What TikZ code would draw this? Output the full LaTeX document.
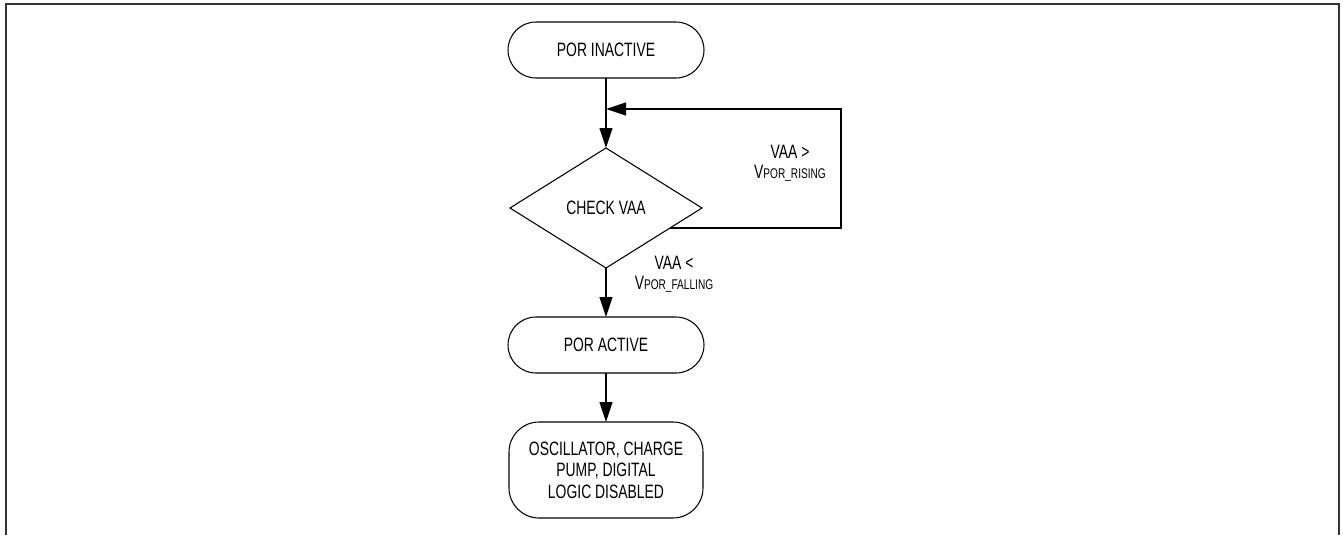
\documentclass[tikz,border=0pt]{standalone}
\usepackage{fontspec}
\setmainfont{Liberation Sans}[FakeStretch=0.72]
\usetikzlibrary{shapes.geometric,arrows.meta,calc}

\newcommand{\subtxt}[1]{{\fontsize{8}{8}\selectfont #1}}

\tikzset{
    every node/.style={font=\fontsize{11}{12.2}\selectfont},
    term/.style={draw, line width=0.6pt, rectangle, rounded corners=0.56cm,
        minimum width=3.92cm, minimum height=1.12cm, inner sep=0pt, outer sep=0pt},
    blockbox/.style={draw, line width=0.6pt, rectangle, rounded corners=0.6cm,
        minimum width=3.88cm, minimum height=1.92cm, inner sep=0pt, outer sep=0pt, align=center},
    decision/.style={draw, line width=0.6pt, diamond, minimum width=3.84cm,
        minimum height=2.4cm, inner sep=0pt, outer sep=0pt},
    lbl/.style={align=center, inner sep=0pt},
    flow/.style={line width=0.6pt, -{Triangle[length=0.4cm, width=0.26cm]}},
    frame/.style={line width=1.2pt, draw=black!80}
}

\begin{document}
\begin{tikzpicture}
                \useasboundingbox (0,0) rectangle (26.86,-10.7);

                % Outer frame (open at the bottom)
                \draw[frame] (0.12,-10.7) -- (0.12,-0.08) -- (26.78,-0.08) -- (26.78,-10.7);

                % Flow chart boxes
                \node[term] (inact) at (12.12,-1.0) {POR INACTIVE};
                \node[decision] (chk) at (12.12,-4.16) {CHECK VAA};
                \node[term] (act) at (12.12,-6.9) {POR ACTIVE};
                \node[blockbox, font=\fontsize{11}{12.3}\selectfont] (off) at (12.12,-9.4)
                    {OSCILLATOR, CHARGE\\PUMP, DIGITAL\\LOGIC DISABLED};

                % Loop back corners
                \coordinate (chkout) at ($(chk.east)!0.333!(chk.south)$);
                \coordinate (loopR) at (16.82,-2.18);
                \coordinate (join) at (12.12,-2.18);

                % Arrows
                \draw[flow] (inact) -- (chk);
                \draw[flow] (chkout) -| (loopR) -- (join);
                \draw[flow] (chk) -- (act);
                \draw[flow] (act) -- (off);

                % Conditions
                \node[lbl, font=\fontsize{11}{11.4}\selectfont] (rise) at (15.8,-3.27)
                    {VAA >\\V\subtxt{POR\_RISING}};
                \node[lbl, font=\fontsize{11}{11.4}\selectfont] (fall) at (13.48,-5.48)
                    {VAA <\\V\subtxt{POR\_FALLING}};
\end{tikzpicture}
\end{document}
